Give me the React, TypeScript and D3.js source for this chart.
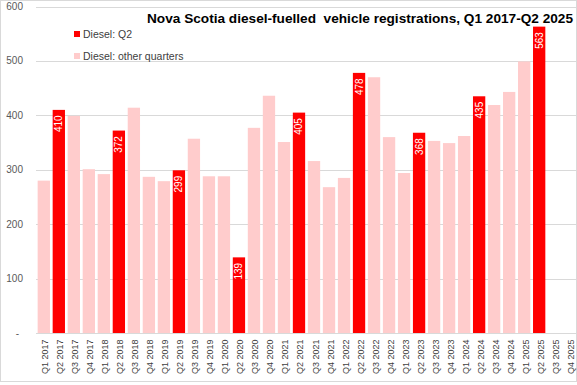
import React from 'react';
import * as d3 from 'd3';

// quarters on the x axis (Q3/Q4 2025 not yet reported)
const quarters = [
  'Q1 2017', 'Q2 2017', 'Q3 2017', 'Q4 2017',
  'Q1 2018', 'Q2 2018', 'Q3 2018', 'Q4 2018',
  'Q1 2019', 'Q2 2019', 'Q3 2019', 'Q4 2019',
  'Q1 2020', 'Q2 2020', 'Q3 2020', 'Q4 2020',
  'Q1 2021', 'Q2 2021', 'Q3 2021', 'Q4 2021',
  'Q1 2022', 'Q2 2022', 'Q3 2022', 'Q4 2022',
  'Q1 2023', 'Q2 2023', 'Q3 2023', 'Q4 2023',
  'Q1 2024', 'Q2 2024', 'Q3 2024', 'Q4 2024',
  'Q1 2025', 'Q2 2025', 'Q3 2025', 'Q4 2025',
];

// diesel-fuelled registrations per quarter
const dieselValues: (number | null)[] = [
  280, 410, 399, 301,
  292, 372, 414, 287,
  279, 299, 357, 288,
  288, 139, 377, 436,
  351, 405, 316, 268,
  285, 478, 470, 360,
  294, 368, 353, 349,
  362, 435, 419, 443,
  499, 563, null, null,
];

const yTicks = [0, 100, 200, 300, 400, 500, 600];

const W = 577;
const H = 385;
const RED = '#ff0000';
const PINK = '#ffcccc';
const FONT = '"Liberation Sans", Arial, sans-serif';

export default function App() {
  const x = d3
    .scaleBand<string>()
    .domain(quarters)
    .range([36.3, 576.7])
    .paddingInner(0.18)
    .paddingOuter(0.09);

  const y = d3.scaleLinear().domain([0, 600]).range([333, 6.5]);

  const bars = quarters
    .map((q, i) => ({ q, v: dieselValues[i], isQ2: q.startsWith('Q2') }))
    .filter((d) => d.v != null) as { q: string; v: number; isQ2: boolean }[];

  return (
    <>
      <style>{'body{margin:0}'}</style>
      <svg width={W} height={H} style={{ display: 'block', fontFamily: FONT }}>
        <rect x={0.5} y={0.5} width={W - 1} height={H - 4} fill="#fff" stroke="#d9d9d9" />

        {/* gridlines + y labels */}
        {yTicks.map((t) => (
          <g key={t}>
            <line x1={36} x2={576} y1={Math.round(y(t)) + 0.5} y2={Math.round(y(t)) + 0.5} stroke="#d9d9d9" />
            <text
              x={t === 0 ? 19 : 23}
              y={y(t)}
              dy="0.35em"
              textAnchor="end"
              fontSize={10}
              fill="#595959"
            >
              {t === 0 ? '-' : t}
            </text>
          </g>
        ))}

        {/* bars */}
        {bars.map((d) => (
          <rect
            key={d.q}
            x={x(d.q)}
            y={y(d.v)}
            width={x.bandwidth()}
            height={y(0) - y(d.v)}
            fill={d.isQ2 ? RED : PINK}
          />
        ))}

        {/* data labels on Q2 bars */}
        {bars
          .filter((d) => d.isQ2)
          .map((d) => (
            <text
              key={'l' + d.q}
              transform={`translate(${x(d.q)! + x.bandwidth() / 2},${y(d.v) + 5.5}) rotate(-90)`}
              textAnchor="end"
              dominantBaseline="central"
              fontSize={10}
              fill="#fff"
            >
              {d.v}
            </text>
          ))}

        {/* x labels */}
        {quarters.map((q) => (
          <text
            key={'x' + q}
            transform={`translate(${x(q)! + x.bandwidth() / 2 + 1.5},339.5) rotate(-90)`}
            textAnchor="end"
            dominantBaseline="central"
            fontSize={9}
            fill="#404040"
          >
            {q}
          </text>
        ))}

        {/* title */}
        <text
          x={147}
          y={23}
          fontSize={13.5}
          fontWeight="bold"
          fill="#000"
          textLength={426}
          lengthAdjust="spacingAndGlyphs"
          style={{ whiteSpace: 'pre' }}
        >
          {'Nova Scotia diesel-fuelled  vehicle registrations, Q1 2017-Q2 2025'}
        </text>

        {/* legend */}
        <rect x={74} y={31} width={6} height={6} fill={RED} />
        <text x={83} y={37.5} fontSize={10.5} fill="#404040">
          Diesel: Q2
        </text>
        <rect x={74} y={53} width={6} height={6} fill={PINK} />
        <text x={83} y={59.5} fontSize={10.5} fill="#404040">
          Diesel: other quarters
        </text>
      </svg>
    </>
  );
}
